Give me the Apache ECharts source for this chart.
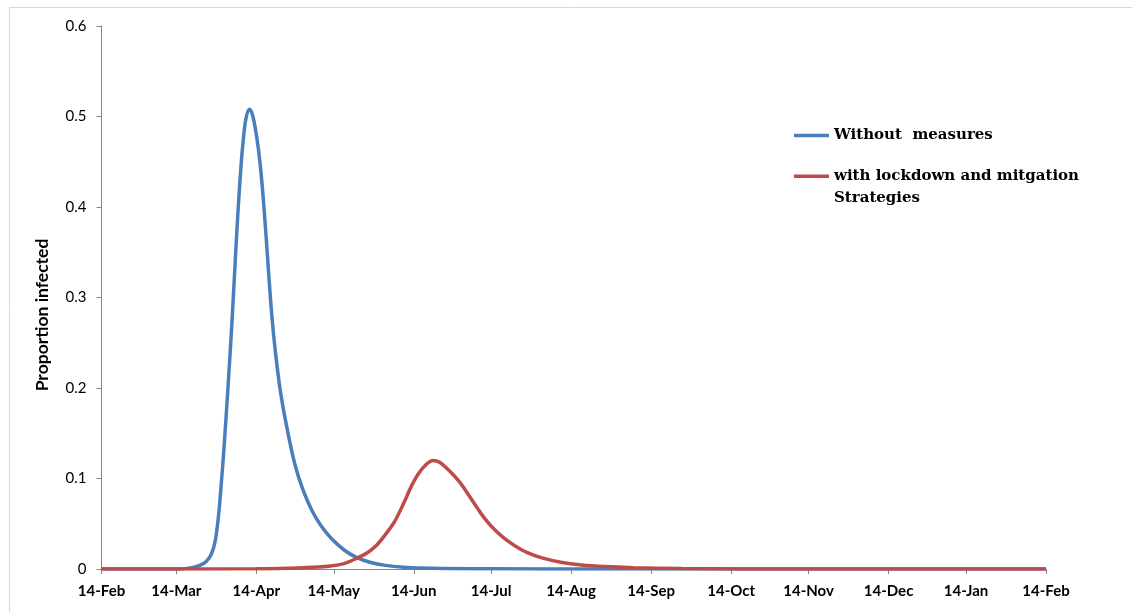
<!DOCTYPE html>
<html>
<head>
<meta charset="utf-8">
<script src="https://cdn.jsdelivr.net/npm/echarts@6/dist/echarts.min.js"></script>
<style>
html,body{margin:0;padding:0;background:#fff;}
#chart{width:1132px;height:612px;}
</style>
</head>
<body>
<div id="chart"></div>
<script>
// x values are days since 14-Feb-2020
const tickDays = [0, 29, 60, 90, 121, 151, 182, 213, 244, 274, 305, 335, 366];
const tickLabels = ['14-Feb','14-Mar','14-Apr','14-May','14-Jun','14-Jul','14-Aug','14-Sep','14-Oct','14-Nov','14-Dec','14-Jan','14-Feb'];

const seriesNames = ['Without  measures', 'with lockdown and mitgation Strategies'];

const blueDays = [0,30,35,38,40.5,42.5,44,45.2,46.3,47.5,49,50.5,52,53,54,55,56,57.3,58.5,60,61.5,63,64.5,66,67.5,69.5,72,75,78,81.5,85,89,94,99,104,110,117,128,150,200,366];
const blueValues = [0,0,0.0015,0.004,0.008,0.016,0.03,0.055,0.09,0.135,0.2,0.27,0.35,0.4,0.443,0.476,0.498,0.508,0.502,0.48,0.447,0.398,0.338,0.28,0.237,0.193,0.154,0.115,0.088,0.065,0.048,0.034,0.021,0.0125,0.0075,0.004,0.002,0.0008,0.0002,0,0];

const redDays = [0,60,78,88,94,99,103,106.5,110,113.5,117,120,123,126,128.5,131,135,138.5,142,145.5,149,152.5,156,160,165,171,178,186,195,206,225,250,366];
const redValues = [0,0.0004,0.0015,0.003,0.006,0.012,0.018,0.026,0.038,0.052,0.072,0.091,0.106,0.116,0.12,0.118,0.108,0.097,0.083,0.068,0.054,0.043,0.034,0.026,0.018,0.012,0.0075,0.0045,0.0027,0.0015,0.0005,0.0001,0];

const yTicks = ['0','0.1','0.2','0.3','0.4','0.5','0.6'];

const pair = (xs, ys) => xs.map((x, i) => [x, ys[i]]);
const chart = echarts.init(document.getElementById('chart'), null, {renderer: 'canvas'});
const axisGray = '#868686';

const option = {
  backgroundColor: '#ffffff',
  animation: false,
  grid: {left: 101.5, right: 86, top: 26, bottom: 43, containLabel: false},
  xAxis: {
    type: 'value', min: 0, max: 366,
    splitLine: {show: false},
    axisLine: {show: true, lineStyle: {color: axisGray, width: 1}},
    axisTick: {show: true, length: 5, lineStyle: {color: axisGray}, customValues: tickDays},
    axisLabel: {
      customValues: tickDays,
      margin: 15,
      fontFamily: 'Lato', fontWeight: 'bold', fontSize: 15, color: '#000',
      formatter: v => { const i = tickDays.indexOf(Math.round(v)); return i >= 0 ? tickLabels[i] : ''; }
    }
  },
  yAxis: {
    type: 'value', min: 0, max: 0.6, interval: 0.1,
    splitLine: {show: false},
    axisLine: {show: true, lineStyle: {color: axisGray, width: 1}},
    axisTick: {show: true, length: 5, lineStyle: {color: axisGray}},
    axisLabel: {
      margin: 15, fontFamily: 'Lato', fontSize: 15, color: '#000',
      formatter: v => yTicks[Math.round(v * 10)]
    }
  },
  legend: [
    {
      data: [seriesNames[0]],
      left: 794, top: 128, padding: 0,
      icon: 'rect', itemWidth: 35, itemHeight: 3.5, itemGap: 0,
      textStyle: {fontFamily: 'DejaVu Serif', fontWeight: 'bold', fontSize: 15, color: '#000'},
      selectedMode: false
    },
    {
      data: [seriesNames[1]],
      left: 794, top: 144, padding: 0,
      icon: 'rect', itemWidth: 35, itemHeight: 3.5, itemGap: 0,
      formatter: () => '\nwith lockdown and mitgation\nStrategies',
      textStyle: {fontFamily: 'DejaVu Serif', fontWeight: 'bold', fontSize: 15, color: '#000', lineHeight: 21.5},
      selectedMode: false
    }
  ],
  graphic: [
    {type: 'line', shape: {x1: 9, y1: 7.5, x2: 1132, y2: 7.5}, style: {stroke: '#d9d9d9', lineWidth: 1}, silent: true},
    {type: 'line', shape: {x1: 9.5, y1: 7, x2: 9.5, y2: 612}, style: {stroke: '#d9d9d9', lineWidth: 1}, silent: true},
    {type: 'text', x: 42, y: 315, rotation: Math.PI / 2,
     style: {text: 'Proportion infected', fontFamily: 'Lato', fontWeight: 'bold', fontSize: 17.5, fill: '#000', align: 'center', verticalAlign: 'middle'}}
  ],
  series: [
    {
      name: seriesNames[0], type: 'line', data: pair(blueDays, blueValues),
      smooth: 0.35, showSymbol: false, symbol: 'none',
      lineStyle: {color: '#4A7EBB', width: 3.5}, itemStyle: {color: '#4A7EBB'}
    },
    {
      name: seriesNames[1], type: 'line', data: pair(redDays, redValues),
      smooth: 0.35, showSymbol: false, symbol: 'none',
      lineStyle: {color: '#BE4B48', width: 3.5}, itemStyle: {color: '#BE4B48'}
    }
  ]
};
chart.setOption(option);
</script>
</body>
</html>
